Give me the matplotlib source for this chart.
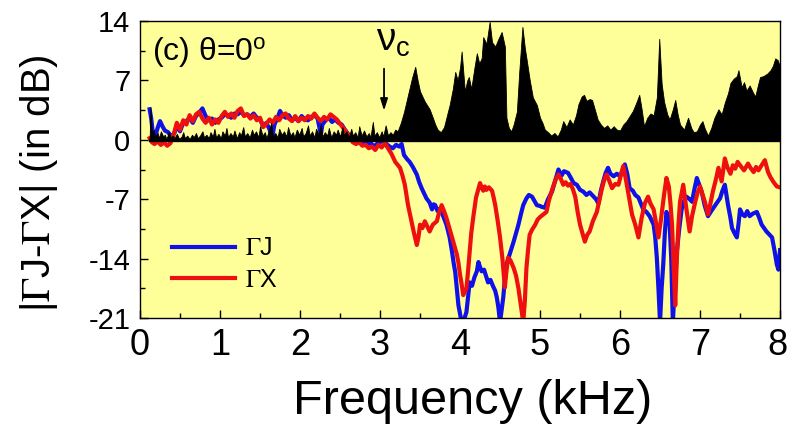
import numpy as np
import matplotlib
matplotlib.use("Agg")
import matplotlib.pyplot as plt
import matplotlib.transforms as mtransforms
from matplotlib.ticker import MultipleLocator

plt.rcParams['font.family'] = ['Liberation Sans', 'DejaVu Sans']
plt.rcParams['mathtext.fontset'] = 'stix'
plt.rcParams['axes.unicode_minus'] = False

# |GammaJ - GammaX| difference (black filled area)
diff_freq = [0.12, 0.13, 0.15, 0.17, 0.19, 0.22, 0.24, 0.26, 0.29, 0.31, 0.33, 0.36, 0.38, 0.41, 0.43, 0.46,
             0.49, 0.52, 0.54, 0.56, 0.59, 0.62, 0.65, 0.67, 0.70, 0.72, 0.75, 0.78, 0.80, 0.83, 0.86, 0.88,
             0.91, 0.93, 0.95, 0.98, 1.01, 1.03, 1.06, 1.08, 1.10, 1.13, 1.16, 1.18, 1.21, 1.24, 1.26, 1.29,
             1.31, 1.34, 1.37, 1.40, 1.42, 1.45, 1.48, 1.50, 1.53, 1.56, 1.58, 1.61, 1.64, 1.66, 1.69, 1.72,
             1.74, 1.77, 1.80, 1.83, 1.85, 1.88, 1.91, 1.93, 1.96, 1.99, 2.02, 2.04, 2.07, 2.10, 2.12, 2.15,
             2.18, 2.20, 2.23, 2.26, 2.28, 2.31, 2.34, 2.36, 2.39, 2.42, 2.45, 2.47, 2.50, 2.53, 2.55, 2.58,
             2.61, 2.64, 2.66, 2.69, 2.72, 2.74, 2.77, 2.80, 2.83, 2.86, 2.88, 2.91, 2.93, 2.96, 2.99, 3.02,
             3.04, 3.07, 3.10, 3.13, 3.16, 3.19, 3.22,
             3.26, 3.30, 3.35, 3.40, 3.44, 3.47, 3.50, 3.56, 3.62, 3.66, 3.69, 3.72, 3.76, 3.80, 3.84, 3.87,
             3.91, 3.94, 3.97, 4.00, 4.02, 4.06, 4.09, 4.11, 4.14, 4.18, 4.21, 4.24, 4.27, 4.29, 4.33, 4.37,
             4.40, 4.44, 4.48, 4.52, 4.56, 4.58, 4.61, 4.64, 4.67, 4.71, 4.74, 4.78, 4.81, 4.83, 4.87, 4.91,
             4.96, 5.00, 5.03, 5.06, 5.10, 5.14, 5.18, 5.22, 5.26, 5.29, 5.33, 5.37, 5.41, 5.45, 5.48, 5.52,
             5.55, 5.58, 5.62, 5.65, 5.69, 5.72, 5.76, 5.80, 5.84, 5.88, 5.92, 5.96, 6.00, 6.04, 6.08, 6.12,
             6.16, 6.20, 6.24, 6.27, 6.30, 6.34, 6.38, 6.42, 6.46, 6.49, 6.52, 6.55, 6.59, 6.62, 6.66, 6.69,
             6.72, 6.75, 6.80, 6.85, 6.89, 6.92, 6.96, 7.00, 7.03, 7.06, 7.10, 7.14, 7.18, 7.23, 7.27, 7.31,
             7.35, 7.38, 7.42, 7.46, 7.48, 7.52, 7.55, 7.58, 7.62, 7.66, 7.69, 7.72, 7.75, 7.79, 7.84, 7.88,
             7.91, 7.94, 7.97, 8.00]
diff_db = [0.0, 3.8, 0.5, 1.2, 0.3, 0.8, 0.2, 1.0, 0.4, 0.6, 0.1, 0.9, 0.3, 0.5, 0.2, 0.7,
           0.1, 0.4, 0.9, 0.2, 0.5, 0.1, 0.6, 0.3, 0.8, 0.2, 0.5, 1.0, 0.3, 0.6, 0.2, 0.9,
           0.4, 1.3, 0.3, 0.7, 0.2, 1.0, 0.5, 1.4, 0.3, 0.8, 0.4, 1.1, 0.2, 0.9, 0.5, 1.5,
           0.4, 0.8, 0.3, 1.2, 0.6, 1.0, 0.3, 1.6, 0.5, 0.9, 0.2, 1.1, 2.0, 0.4, 0.8, 0.3,
           1.3, 0.6, 1.0, 0.4, 1.5, 0.5, 0.9, 0.3, 1.2, 0.6, 1.4, 0.4, 0.8, 1.7, 0.5, 1.0,
           0.3, 1.3, 0.7, 1.8, 0.4, 0.9, 0.5, 1.4, 0.3, 1.0, 0.6, 1.2, 0.4, 1.5, 0.6, 1.0,
           0.3, 1.3, 0.5, 0.9, 0.3, 1.6, 0.5, 1.1, 0.4, 0.8, 0.3, 2.1, 0.5, 0.9, 0.3, 1.0,
           0.4, 1.7, 0.5, 0.9, 0.6, 1.2, 1.0,
           2.0, 3.3, 5.3, 7.3, 8.6, 7.0, 5.7, 4.5, 3.6, 2.6, 1.8, 1.2, 0.9, 1.5, 3.0, 4.1,
           6.0, 8.0, 7.0, 8.5, 10.4, 5.7, 7.0, 7.4, 6.0, 8.5, 10.2, 9.0, 9.6, 12.1, 11.3, 13.9,
           11.5, 11.0, 11.9, 12.7, 11.0, 2.6, 1.4, 1.0, 1.8, 3.3, 8.0, 13.3, 10.8, 9.6, 7.1, 5.0,
           4.1, 2.6, 2.0, 1.2, 0.9, 0.5, 0.8, 0.4, 1.2, 2.2, 1.5, 2.4, 1.8, 2.9, 4.2, 5.1,
           5.3, 4.6, 4.8, 4.7, 3.4, 2.4, 1.8, 1.4, 1.7, 1.2, 1.6, 1.2, 1.1, 1.8, 2.2, 2.8,
           3.4, 4.3, 5.3, 3.6, 1.6, 2.6, 3.1, 2.9, 5.0, 11.9, 6.6, 4.5, 3.0, 2.4, 3.6, 4.7,
           3.0, 1.8, 1.2, 2.6, 1.4, 0.9, 1.0, 1.8, 2.2, 1.3, 0.5, 1.4, 2.6, 3.6, 3.0, 4.4,
           5.5, 6.7, 7.2, 7.5, 8.2, 6.2, 6.8, 5.8, 6.4, 5.6, 5.1, 6.3, 7.4, 7.5, 7.8, 8.2,
           8.7, 9.6, 9.4, 8.6]

# Gamma-J (blue)
gj_freq = [0.12, 0.14, 0.16, 0.19, 0.22, 0.25, 0.28, 0.31, 0.35, 0.39, 0.43, 0.46, 0.50, 0.54, 0.58, 0.62,
           0.66, 0.70, 0.74, 0.78, 0.82, 0.86, 0.90, 0.94, 0.98, 1.02, 1.06, 1.10, 1.14, 1.18, 1.22, 1.26,
           1.30, 1.34, 1.38, 1.42, 1.46, 1.50, 1.54, 1.58, 1.62, 1.65, 1.68, 1.72, 1.75, 1.78, 1.82, 1.86,
           1.90, 1.94, 1.98, 2.02, 2.06, 2.10, 2.14, 2.18, 2.22, 2.26, 2.28, 2.32, 2.36, 2.40, 2.44, 2.48,
           2.52, 2.56, 2.60, 2.64, 2.68, 2.72, 2.76, 2.80, 2.84, 2.88, 2.92, 2.96, 3.00, 3.04, 3.08, 3.12,
           3.16, 3.20, 3.24, 3.27, 3.30, 3.34, 3.37, 3.41, 3.46, 3.49, 3.52, 3.55, 3.58, 3.62, 3.65, 3.67,
           3.69, 3.72, 3.75, 3.79, 3.83, 3.87, 3.90, 3.92, 3.94, 3.96, 3.98, 4.01, 4.04, 4.08, 4.10, 4.12,
           4.15, 4.18, 4.21, 4.23, 4.25, 4.27, 4.30, 4.33, 4.35, 4.38, 4.41, 4.44, 4.46, 4.48, 4.50, 4.52,
           4.54, 4.56, 4.58, 4.62, 4.67, 4.70, 4.73, 4.76, 4.79, 4.83, 4.86, 4.90, 4.93, 4.96, 5.00, 5.02,
           5.06, 5.10, 5.15, 5.19, 5.23, 5.27, 5.30, 5.35, 5.38, 5.42, 5.46, 5.50, 5.54, 5.58, 5.62, 5.67,
           5.70, 5.73, 5.76, 5.79, 5.82, 5.85, 5.88, 5.92, 5.96, 6.00, 6.03, 6.06, 6.09, 6.12, 6.16, 6.19,
           6.23, 6.26, 6.29, 6.33, 6.37, 6.42, 6.44, 6.46, 6.48, 6.50, 6.52, 6.54, 6.56, 6.58, 6.60, 6.62,
           6.64, 6.66, 6.68, 6.71, 6.74, 6.77, 6.80, 6.83, 6.87, 6.90, 6.93, 6.96, 6.99, 7.02, 7.06, 7.10,
           7.14, 7.19, 7.22, 7.25, 7.28, 7.31, 7.33, 7.35, 7.38, 7.40, 7.43, 7.46, 7.48, 7.50, 7.53, 7.56,
           7.59, 7.62, 7.66, 7.71, 7.74, 7.77, 7.80, 7.83, 7.87, 7.90, 7.93, 7.96, 7.98, 8.00]
gj_db = [3.6, 2.5, 0.8, 0.4, 1.4, 2.2, 1.6, 1.1, 0.9, 0.4, 0.8, 1.6, 1.0, 2.0, 2.2, 2.6,
         2.0, 2.8, 3.2, 3.7, 2.8, 2.3, 2.5, 2.0, 2.4, 2.6, 3.0, 2.9, 2.6, 3.1, 3.0, 3.3,
         2.9, 3.0, 2.7, 3.1, 2.6, 2.4, 1.6, 2.0, 1.2, 0.2, 1.8, 2.6, 3.4, 2.9, 2.6, 2.9,
         2.3, 2.6, 2.2, 2.8, 2.4, 2.3, 2.7, 2.9, 2.5, 0.6, 1.8, 2.3, 2.6, 2.1, 2.4, 2.0,
         1.8, 1.2, 0.7, 0.2, -0.2, 0.1, -0.4, -0.2, -0.6, -0.3, -0.8, -0.5, -0.3, 0.0, -0.5, -0.8,
         -1.0, -0.6, -0.8, -0.5, -1.8, -2.3, -2.6, -3.2, -4.1, -5.0, -5.7, -6.3, -6.9, -7.4, -8.2, -7.6,
         -7.7, -8.4, -8.1, -9.0, -10.0, -11.5, -13.2, -14.5, -15.6, -17.5, -19.5, -21.0, -21.5, -20.3, -18.5, -16.8,
         -17.2, -16.2, -15.5, -14.4, -15.0, -15.5, -15.3, -16.2, -16.8, -16.5, -17.2, -17.8, -18.6, -19.8, -21.5, -20.0,
         -18.6, -16.5, -14.7, -13.5, -12.0, -11.0, -10.0, -8.8, -7.7, -6.9, -6.5, -6.7, -7.2, -7.7, -7.8, -7.9,
         -8.0, -7.0, -6.1, -4.8, -3.5, -4.2, -3.7, -3.9, -4.4, -5.1, -5.3, -5.9, -6.1, -6.5, -6.2, -6.7,
         -7.0, -7.5, -6.0, -4.9, -3.9, -3.3, -4.0, -4.3, -4.0, -4.3, -3.6, -2.9, -4.0, -5.7, -6.0, -6.5,
         -6.8, -7.5, -8.2, -8.5, -9.0, -10.0, -11.5, -13.9, -17.5, -21.5, -17.5, -14.7, -11.0, -8.5, -9.0, -10.0,
         -14.0, -21.5, -18.0, -13.2, -10.5, -8.2, -7.2, -6.7, -7.0, -7.3, -5.8, -4.5, -5.3, -6.1, -7.8, -9.0,
         -8.4, -7.7, -7.3, -6.9, -6.0, -5.3, -6.5, -7.7, -9.2, -10.4, -11.0, -11.5, -10.0, -8.2, -8.8, -9.0,
         -8.4, -9.0, -8.7, -8.5, -9.2, -10.0, -10.4, -10.8, -11.2, -11.5, -13.0, -14.7, -15.3, -13.0]

# Gamma-X (red)
gx_freq = [0.12, 0.15, 0.18, 0.22, 0.26, 0.30, 0.34, 0.38, 0.42, 0.46, 0.50, 0.54, 0.58, 0.62, 0.66, 0.70,
           0.74, 0.78, 0.82, 0.86, 0.90, 0.94, 0.98, 1.02, 1.06, 1.10, 1.14, 1.18, 1.22, 1.26, 1.30, 1.34,
           1.38, 1.42, 1.46, 1.50, 1.54, 1.58, 1.62, 1.66, 1.70, 1.74, 1.78, 1.82, 1.86, 1.90, 1.94, 1.98,
           2.02, 2.06, 2.10, 2.14, 2.18, 2.22, 2.26, 2.30, 2.34, 2.38, 2.42, 2.46, 2.50, 2.54, 2.58, 2.62,
           2.66, 2.70, 2.74, 2.78, 2.82, 2.86, 2.90, 2.94, 2.98, 3.02, 3.06, 3.10, 3.14, 3.19, 3.25, 3.28,
           3.31, 3.35, 3.39, 3.42, 3.46, 3.48, 3.50, 3.53, 3.56, 3.59, 3.62, 3.66, 3.71, 3.74, 3.77, 3.80,
           3.83, 3.87, 3.90, 3.93, 3.96, 3.98, 4.00, 4.02, 4.04, 4.08, 4.10, 4.12, 4.14, 4.17, 4.20, 4.23,
           4.25, 4.27, 4.29, 4.31, 4.33, 4.36, 4.40, 4.42, 4.44, 4.47, 4.50, 4.53, 4.56, 4.58, 4.60, 4.63,
           4.67, 4.70, 4.73, 4.76, 4.79, 4.81, 4.83, 4.85, 4.87, 4.90, 4.94, 4.97, 5.00, 5.04, 5.08, 5.11,
           5.15, 5.19, 5.23, 5.26, 5.29, 5.32, 5.35, 5.38, 5.41, 5.44, 5.47, 5.50, 5.53, 5.56, 5.59, 5.62,
           5.66, 5.71, 5.74, 5.77, 5.80, 5.83, 5.86, 5.90, 5.94, 5.98, 6.01, 6.04, 6.07, 6.10, 6.15, 6.19,
           6.23, 6.27, 6.31, 6.35, 6.38, 6.42, 6.45, 6.48, 6.51, 6.55, 6.58, 6.61, 6.63, 6.65, 6.67, 6.69,
           6.71, 6.73, 6.75, 6.79, 6.83, 6.87, 6.90, 6.94, 6.97, 7.00, 7.03, 7.06, 7.10, 7.13, 7.16, 7.20,
           7.23, 7.27, 7.31, 7.34, 7.38, 7.41, 7.44, 7.47, 7.50, 7.55, 7.60, 7.63, 7.67, 7.70, 7.73, 7.77,
           7.81, 7.85, 7.88, 7.92, 7.96, 8.00]
gx_db = [0.2, -0.3, -0.5, -0.2, -0.6, -0.3, -0.7, -0.4, 0.6, 2.0, 1.2, 2.3, 1.8, 2.9, 2.2, 3.0,
         3.3, 2.5, 2.0, 2.6, 1.8, 2.4, 2.0, 2.8, 3.3, 2.7, 3.1, 2.6, 3.4, 3.7, 2.8, 3.0,
         2.5, 2.9, 2.3, 2.6, 1.5, 1.9, 2.4, 2.0, 2.7, 2.3, 2.9, 3.1, 2.5, 2.2, 2.8, 2.2,
         2.6, 2.3, 2.8, 2.5, 3.1, 2.6, 2.2, 2.7, 2.4, 3.0, 2.7, 2.4, 1.9, 1.4, 0.9, 0.3,
         -0.3, -0.5, -0.3, -0.7, -0.6, -1.0, -0.8, -1.2, -0.6, -0.9, -0.4, -1.0, -1.6, -2.6, -3.3, -4.2,
         -5.3, -7.7, -9.5, -10.8, -12.4, -11.5, -10.0, -10.4, -9.6, -10.2, -10.8, -10.0, -9.6, -8.5, -7.7, -8.4,
         -9.2, -10.5, -11.5, -12.5, -13.5, -14.5, -15.9, -17.0, -18.3, -17.5, -15.5, -13.2, -11.0, -8.8, -6.8, -5.8,
         -5.1, -5.6, -6.0, -5.5, -5.9, -5.6, -6.0, -6.8, -7.7, -9.5, -11.5, -14.0, -17.4, -15.5, -13.9, -14.2,
         -15.1, -16.0, -17.5, -19.5, -21.5, -19.0, -15.1, -13.0, -11.2, -10.6, -10.0, -9.4, -9.1, -8.8, -8.5, -7.2,
         -5.9, -4.8, -4.1, -4.6, -5.3, -5.0, -5.4, -5.2, -5.8, -6.7, -8.5, -10.0, -11.0, -12.0, -11.2, -10.8,
         -9.6, -8.5, -7.2, -5.9, -4.8, -4.1, -4.7, -5.7, -5.2, -5.3, -4.2, -3.1, -4.5, -6.1, -8.8, -10.0,
         -11.5, -9.2, -7.5, -6.7, -7.5, -8.2, -9.8, -11.5, -9.5, -6.5, -4.5, -5.5, -7.5, -10.0, -15.0, -19.5,
         -14.0, -10.0, -7.3, -5.3, -8.2, -10.8, -9.0, -7.3, -6.2, -5.5, -6.4, -7.3, -8.8, -7.5, -6.1, -4.6,
         -3.3, -4.9, -2.2, -3.2, -4.0, -3.0, -3.4, -2.6, -3.0, -3.6, -2.8, -3.3, -3.8, -3.2, -3.6, -3.0,
         -2.4, -3.8, -4.4, -5.0, -5.5, -5.6]

x_ticks = [0, 1, 2, 3, 4, 5, 6, 7, 8]
y_ticks = [-21, -14, -7, 0, 7, 14]

fig = plt.figure(figsize=(7.88, 4.42), dpi=100)
fig.patch.set_facecolor('white')
ax = fig.add_axes([0.1777, 0.2805, 0.8122, 0.6720])
ax.set_facecolor('#ffff99')

ax.plot(gj_freq, gj_db, color='#1010e8', lw=3.0, label=r'$\Gamma$J', zorder=2)
ax.plot(gx_freq, gx_db, color='#ee1010', lw=3.0, label=r'$\Gamma$X', zorder=3)
ax.fill_between(diff_freq, 0, diff_db, color='black', lw=0.6, zorder=4)
ax.plot([diff_freq[0], diff_freq[-1]], [0, 0], color='black', lw=2.4, zorder=5)

ax.annotate('', xy=(3.05, 3.1), xytext=(3.05, 8.7),
            arrowprops=dict(arrowstyle='-|>,head_length=0.7,head_width=0.22', color='black', lw=1.3),
            zorder=6)
ax.text(2.95, 10.5, r'$\mathregular{\nu_c}$', fontsize=28, ha='left', va='baseline', zorder=6)
ax.text(0.019, 0.893, r'(c) θ=0$^{\mathregular{o}}$', transform=ax.transAxes, fontsize=23,
        ha='left', va='center', zorder=6)

ax.set_xlim(0, 8)
ax.set_ylim(-21, 14)
ax.set_xticks(x_ticks)
ax.set_yticks(y_ticks)
ax.xaxis.set_minor_locator(MultipleLocator(0.5))
ax.yaxis.set_minor_locator(MultipleLocator(3.5))
ax.tick_params(which='both', direction='in', top=False, right=False)
ax.tick_params(which='major', length=6, width=1)
ax.tick_params(which='minor', length=3.5, width=1)
ax.tick_params(axis='x', labelsize=26, pad=7)
ax.tick_params(axis='y', labelsize=21, pad=7)
for s in ax.spines.values():
    s.set_linewidth(1.0)

# keep the last x tick label inside the canvas
last_tick = ax.xaxis.get_major_ticks()[-1]
last_tick.label1.set_transform(last_tick.label1.get_transform() +
                               mtransforms.ScaledTranslation(-3 / 100, 0, fig.dpi_scale_trans))

ax.set_xlabel('Frequency (kHz)', fontsize=35)
ax.xaxis.set_label_coords(0.52, -0.205)
ax.set_ylabel(r'|$\Gamma$J-$\Gamma$X| (in dB)', fontsize=29)
ax.yaxis.set_label_coords(-0.125, 0.455)

leg = ax.legend(loc='upper left', bbox_to_anchor=(0.05, 0.275), frameon=False, fontsize=18,
                handlelength=2.5, handletextpad=0.4, labelspacing=0.3, borderpad=0, borderaxespad=0)
for h in leg.get_lines():
    h.set_linewidth(3)

fig.savefig('out.png', dpi=100, facecolor='white')
